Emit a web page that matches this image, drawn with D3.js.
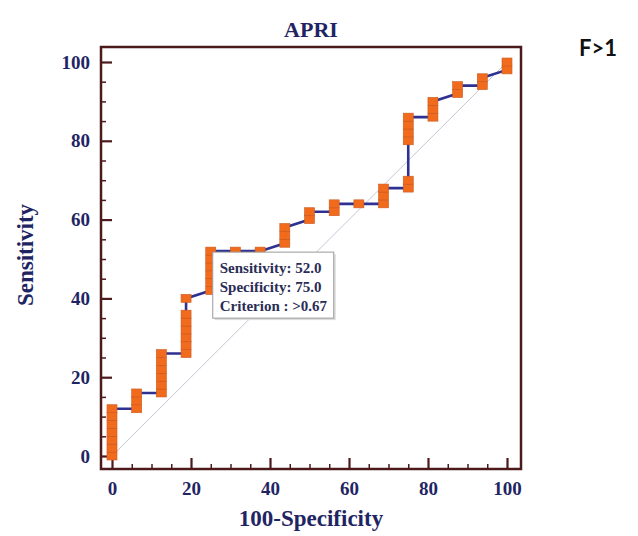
<!DOCTYPE html>
<html>
<head>
<meta charset="utf-8">
<script src="https://cdn.jsdelivr.net/npm/d3@7"></script>
<style>
  body { margin: 0; background: #fff; }
  svg { display: block; }
</style>
</head>
<body>
<svg id="chart"></svg>
<script>
// ROC points: [100-Specificity, Sensitivity]
const fprValues = [
  0, 0, 0, 0, 0, 0, 0,
  6.25, 6.25, 6.25,
  12.5, 12.5, 12.5, 12.5, 12.5, 12.5,
  18.75, 18.75, 18.75, 18.75, 18.75, 18.75, 18.75,
  25, 25, 25, 25, 25, 25,
  31.25, 37.5,
  43.75, 43.75, 43.75,
  50, 50,
  56.25, 56.25,
  62.5,
  68.75, 68.75, 68.75,
  75, 75, 75, 75, 75, 75,
  81.25, 81.25, 81.25,
  87.5, 87.5,
  93.75, 93.75,
  100, 100
];
const tprValues = [
  0, 2, 4, 6, 8, 10, 12,
  12, 14, 16,
  16, 18, 20, 22, 24, 26,
  26, 28, 30, 32, 34, 36, 40,
  42, 44, 46, 48, 50, 52,
  52, 52,
  54, 56, 58,
  60, 62,
  62, 64,
  64,
  64, 66, 68,
  68, 70, 80, 82, 84, 86,
  86, 88, 90,
  92, 94,
  94, 96,
  98, 100
];
const majorTicks = [0, 20, 40, 60, 80, 100];
const minorTicks = d3.range(0, 101, 5).filter(d => d % 20 !== 0);
const tooltipLines = ["Sensitivity: 52.0", "Specificity: 75.0", "Criterion : >0.67"];
const tooltipAt = [25, 52];

const width = 638;
const height = 536;
const frame = {left: 101, right: 521, top: 47, bottom: 469};

const x = d3.scaleLinear().domain([0, 100]).range([112, 507]);
const y = d3.scaleLinear().domain([0, 100]).range([456, 62]);

const serif = "'Liberation Serif', 'Times New Roman', serif";
const navy = "#1f2563";
const maroon = "#4d1a1c";

const svg = d3.select("#chart").attr("width", width).attr("height", height);

// title + side label
svg.append("text")
  .attr("x", 311).attr("y", 37)
  .attr("text-anchor", "middle")
  .style("font-family", serif).style("font-weight", "bold").style("font-size", "22px")
  .attr("fill", navy)
  .text("APRI");

svg.append("text")
  .attr("x", 598).attr("y", 56)
  .attr("text-anchor", "middle")
  .style("font-family", "Lato, 'Open Sans', sans-serif").style("font-weight", "bold").style("font-size", "22px")
  .attr("fill", "#111")
  .text("F>1");

// diagonal reference
svg.append("line")
  .attr("x1", x(0)).attr("y1", y(0))
  .attr("x2", x(100)).attr("y2", y(100))
  .attr("stroke", "#b8b8c8").attr("stroke-width", 0.8);

// frame
svg.append("rect")
  .attr("x", frame.left).attr("y", frame.top)
  .attr("width", frame.right - frame.left).attr("height", frame.bottom - frame.top)
  .attr("fill", "none").attr("stroke", maroon).attr("stroke-width", 2.5);

// axes
function styleAxis(g, major) {
  g.select(".domain").remove();
  g.selectAll(".tick line").attr("stroke", maroon).attr("stroke-width", major ? 2.2 : 1.5);
  g.selectAll(".tick text")
    .style("font-family", serif).style("font-weight", "bold").style("font-size", "19px")
    .attr("fill", navy);
}

svg.append("g")
  .attr("transform", `translate(0,${frame.bottom})`)
  .call(d3.axisBottom(x).tickValues(majorTicks).tickSize(-11).tickPadding(13))
  .call(g => styleAxis(g, true));
svg.append("g")
  .attr("transform", `translate(0,${frame.bottom})`)
  .call(d3.axisBottom(x).tickValues(minorTicks).tickSize(-5).tickFormat(""))
  .call(g => styleAxis(g, false));

svg.append("g")
  .attr("transform", `translate(${frame.left},0)`)
  .call(d3.axisLeft(y).tickValues(majorTicks).tickSize(-11).tickPadding(11))
  .call(g => styleAxis(g, true));
svg.append("g")
  .attr("transform", `translate(${frame.left},0)`)
  .call(d3.axisLeft(y).tickValues(minorTicks).tickSize(-5).tickFormat(""))
  .call(g => styleAxis(g, false));

// axis titles
svg.append("text")
  .attr("x", 311).attr("y", 526)
  .attr("text-anchor", "middle")
  .style("font-family", serif).style("font-weight", "bold").style("font-size", "23px")
  .attr("fill", navy)
  .text("100-Specificity");

svg.append("text")
  .attr("transform", "translate(33,255) rotate(-90)")
  .attr("text-anchor", "middle")
  .style("font-family", serif).style("font-weight", "bold").style("font-size", "23px")
  .attr("fill", navy)
  .text("Sensitivity");

// ROC curve
const points = fprValues.map((f, i) => [f, tprValues[i]]);
const line = d3.line().x(d => x(d[0])).y(d => y(d[1]));

svg.append("path")
  .datum(points)
  .attr("d", line)
  .attr("fill", "none")
  .attr("stroke", "#2e3192")
  .attr("stroke-width", 2.6);

svg.selectAll("rect.marker")
  .data(points)
  .join("rect")
  .attr("class", "marker")
  .attr("x", d => x(d[0]) - 5)
  .attr("y", d => y(d[1]) - 4)
  .attr("width", 10)
  .attr("height", 8)
  .attr("fill", "#f26b1d")
  .attr("stroke", "#c85a22")
  .attr("stroke-width", 0.6);

// tooltip box
const tip = svg.append("g")
  .attr("transform", `translate(${x(tooltipAt[0]) + 2},${y(tooltipAt[1]) + 1})`);
tip.append("rect")
  .attr("x", 2).attr("y", 2)
  .attr("width", 121).attr("height", 66)
  .attr("fill", "#ddd");
tip.append("rect")
  .attr("width", 121).attr("height", 66)
  .attr("fill", "#fff").attr("stroke", "#9a9a9a").attr("stroke-width", 1);
tip.selectAll("text")
  .data(tooltipLines)
  .join("text")
  .attr("x", 7)
  .attr("y", (d, i) => 21 + i * 19)
  .style("font-family", serif).style("font-weight", "bold").style("font-size", "15px")
  .attr("fill", "#2a2d55")
  .text(d => d);
</script>
</body>
</html>
